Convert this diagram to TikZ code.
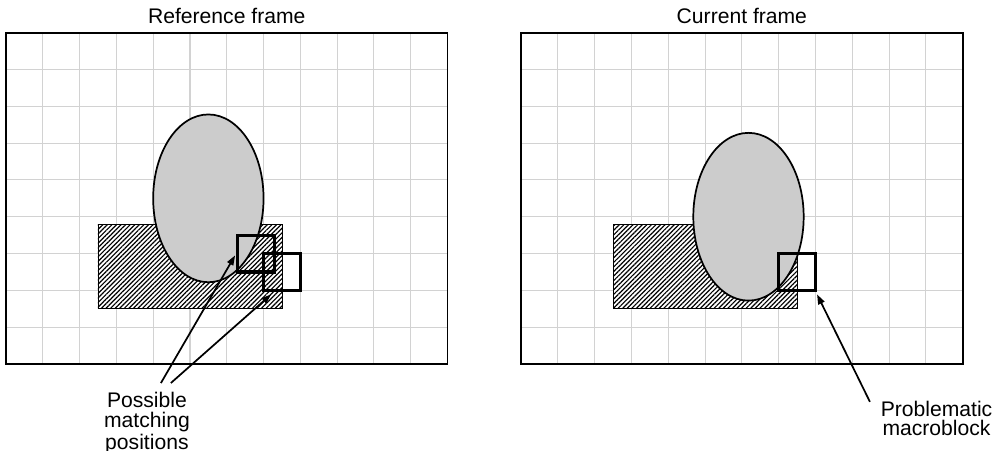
\documentclass[tikz,border=0pt]{standalone}
\usepackage{fontspec}
\setmainfont{Liberation Sans}
\usepackage{tikz}
\usetikzlibrary{arrows.meta,patterns.meta}
\definecolor{ink}{HTML}{000000}
\definecolor{gridgray}{HTML}{D2D2D2}
\definecolor{blobgray}{HTML}{CCCCCC}
\tikzset{
  gridline/.style={gridgray,line width=0.5pt},
  frameline/.style={ink,line width=0.9pt},
  hatched/.style={draw=ink,line width=0.4pt,preaction={fill=white},
    pattern={Lines[angle=45,distance=1.5pt,line width=0.55pt]},pattern color=ink},
  blob/.style={draw=ink,fill=blobgray,line width=0.8pt},
  mblock/.style={draw=ink,line width=1.5pt,minimum size=0.6cm,inner sep=0pt},
  pointer/.style={ink,line width=0.8pt,-{Triangle[length=1.6mm,width=1.1mm]}},
  txt/.style={font=\fontsize{9.8}{8.9}\selectfont,inner sep=0pt,align=center}
}
\begin{document}
\begin{tikzpicture}[x=0.6cm,y=0.6cm]
  \useasboundingbox (-0.163,-2.364) rectangle (27.07,9.891);
  % 12 x 9 macroblock grids, left frame at x=0, right frame at x=14
  \foreach \f in {0,14} {%
    \draw[gridline] \foreach \i in {1,...,11} {(\f+\i,0) -- (\f+\i,9)}
                    \foreach \j in {1,...,8} {(\f,\j) -- (\f+12,\j)};
    \draw[hatched] (\f+2.5,1.5) rectangle (\f+7.5,3.8);
  }
  % the moving object
  \draw[blob] (5.5,4.5) ellipse [x radius=1.5, y radius=2.28];
  \draw[blob] (20.18,4.0) ellipse [x radius=1.5, y radius=2.28];
  \foreach \f in {0,14} {\draw[frameline] (\f,0) rectangle (\f+12,9);}
  \node[txt,anchor=base] (reftitle) at (6,9.24) {Reference frame};
  \node[txt,anchor=base] (curtitle) at (20,9.24) {Current frame};
  % candidate blocks and the block being coded
  \node[mblock] (sq1) at (6.8,3.0) {};
  \node[mblock] (sq2) at (7.5,2.5) {};
  \node[mblock] (mb) at (21.5,2.5) {};
  \node[txt,anchor=north] (poss) at (3.83,-0.77) {Possible\\matching\\positions};
  \node[txt,anchor=north] (prob) at (25.29,-1.0) {Problematic\\macroblock};
  \coordinate (t1) at (4.21,-0.52);
  \coordinate (t2) at (4.48,-0.52);
  \coordinate (t3) at (23.48,-1.03);
  \draw[pointer,shorten >=1pt] (t1) -- (sq1.west);
  \draw[pointer] (t2) -- ([xshift=0.15cm,yshift=-0.04cm]sq2.south west);
  \draw[pointer] (t3) -- ([yshift=-0.04cm]mb.south east);
\end{tikzpicture}
\end{document}
